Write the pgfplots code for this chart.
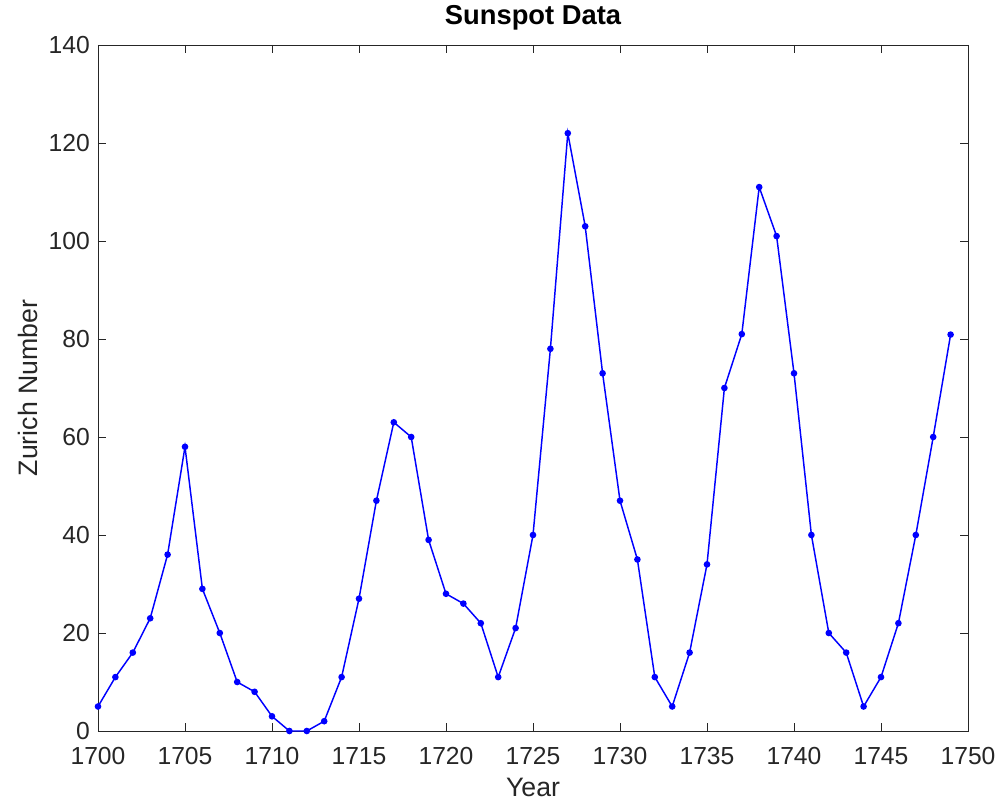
\documentclass[border=0pt]{standalone}
\usepackage{pgfplots}
\pgfplotsset{compat=1.18}
\usepackage{fontspec}
\setmainfont{Liberation Sans}
\definecolor{axgray}{rgb}{0.15,0.15,0.15}
\begin{document}
\begin{tikzpicture}
\begin{axis}[name=ax,
  scale only axis, width=652.5pt, height=514.5pt,
  xmin=1700, xmax=1750, ymin=0, ymax=140,
  xtick={1700,1705,...,1750}, ytick={0,20,...,140},
  /pgf/number format/assume math mode=true,
  /pgf/number format/1000 sep={},
  tick align=inside, tick pos=both,
  major tick length=6pt,
  axis line style={axgray, line width=0.6pt},
  tick style={axgray, line width=0.6pt},
  ticklabel style={font=\fontsize{18.5}{21}\selectfont, text=axgray},
  xticklabel style={anchor=base, inner sep=0pt, yshift=-25.5pt},
  yticklabel style={anchor=east, inner sep=0pt, xshift=-6pt},
  label style={font=\fontsize{20}{24}\selectfont, text=axgray},
  title style={font=\fontsize{20.5}{24}\selectfont\bfseries, at={(axis description cs:0.5,1.0175)}, anchor=base, inner sep=0pt},
  title={Sunspot Data},
  xlabel={Year}, ylabel={Zurich Number},
  xlabel style={at={(axis description cs:0.5,-0.0962)}, anchor=base, inner sep=0pt},
  ylabel style={at={(axis description cs:-0.0701,0.5)}, anchor=base, inner sep=0pt},
  clip=false,
]
\addplot[blue, line width=1.1pt, mark=*, mark size=1.9pt] coordinates {
(1700,5)(1701,11)(1702,16)(1703,23)(1704,36)(1705,58)(1706,29)(1707,20)(1708,10)(1709,8)
(1710,3)(1711,0)(1712,0)(1713,2)(1714,11)(1715,27)(1716,47)(1717,63)(1718,60)(1719,39)
(1720,28)(1721,26)(1722,22)(1723,11)(1724,21)(1725,40)(1726,78)(1727,122)(1728,103)(1729,73)
(1730,47)(1731,35)(1732,11)(1733,5)(1734,16)(1735,34)(1736,70)(1737,81)(1738,111)(1739,101)
(1740,73)(1741,40)(1742,20)(1743,16)(1744,5)(1745,11)(1746,22)(1747,40)(1748,60)(1749,80.9)
};
\end{axis}
\path[use as bounding box] (ax.south west) ++(-73.5pt,-56.25pt) rectangle ([xshift=24pt,yshift=33.75pt]ax.north east);
\end{tikzpicture}
\end{document}
